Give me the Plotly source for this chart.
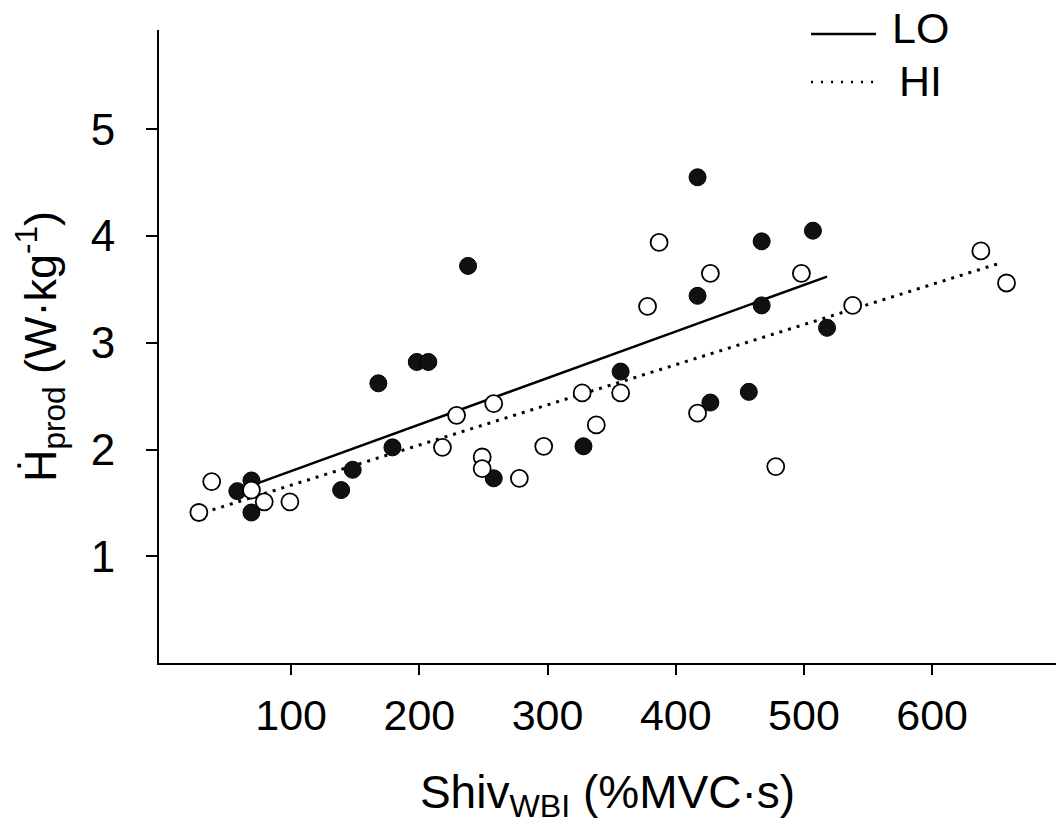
import plotly.graph_objects as go

# ---- data ----
lo_x = [58, 69, 69, 139, 148, 168, 179, 198, 207, 238, 258, 328, 357, 417, 417, 427, 457, 467, 467, 507, 518]
lo_y = [1.61, 1.71, 1.41, 1.62, 1.81, 2.62, 2.02, 2.82, 2.82, 3.72, 1.73, 2.03, 2.73, 4.55, 3.44, 2.44, 2.54, 3.95, 3.35, 4.05, 3.14]

hi_x = [28, 38, 69, 79, 99, 218, 229, 249, 249, 258, 278, 297, 327, 338, 357, 378, 387, 417, 427, 478, 498, 538, 638, 658]
hi_y = [1.41, 1.70, 1.62, 1.51, 1.51, 2.02, 2.32, 1.93, 1.82, 2.43, 1.73, 2.03, 2.53, 2.23, 2.53, 3.34, 3.94, 2.34, 3.65, 1.84, 3.65, 3.35, 3.86, 3.56]

lo_fit_x = [73, 518]
lo_fit_y = [1.68, 3.62]
hi_fit_x = [32, 654]
hi_fit_y = [1.41, 3.75]

x_ticks = [100, 200, 300, 400, 500, 600]
y_ticks = [1, 2, 3, 4, 5]

FONT = "Liberation Sans, Arial, sans-serif"

fig = go.Figure()

fig.add_trace(go.Scatter(x=lo_fit_x, y=lo_fit_y, mode="lines", name="LO",
                         line=dict(color="black", width=2.5), showlegend=False))
fig.add_trace(go.Scatter(x=hi_fit_x, y=hi_fit_y, mode="lines", name="HI",
                         line=dict(color="black", width=3, dash="3px,6px"), showlegend=False))
fig.add_trace(go.Scatter(x=lo_x, y=lo_y, mode="markers", name="LO",
                         marker=dict(size=17, color="#111111", line=dict(color="black", width=1)),
                         showlegend=False))
fig.add_trace(go.Scatter(x=hi_x, y=hi_y, mode="markers", name="HI",
                         marker=dict(size=17, color="white", line=dict(color="black", width=1.8)),
                         showlegend=False))

# legend drawn as line samples + text
fig.add_shape(type="line", xref="paper", yref="paper", x0=0.7269, x1=0.7993, y0=0.9937, y1=0.9937,
              line=dict(color="black", width=2.5))
fig.add_shape(type="line", xref="paper", yref="paper", x0=0.7269, x1=0.7993, y0=0.918, y1=0.918,
              line=dict(color="black", width=2.5, dash="2px,8px"))
fig.add_annotation(text="LO", xref="paper", yref="paper", x=0.8484, y=1.0035, xanchor="center",
                   yanchor="middle", showarrow=False, font=dict(family=FONT, size=43, color="black"))
fig.add_annotation(text="HI", xref="paper", yref="paper", x=0.8484, y=0.9192, xanchor="center",
                   yanchor="middle", showarrow=False, font=dict(family=FONT, size=43, color="black"))

fig.update_layout(
    width=1056, height=827,
    margin=dict(l=159, r=0, t=30, b=164),
    paper_bgcolor="white", plot_bgcolor="white",
    font=dict(family=FONT, color="black"),
    xaxis=dict(
        range=[-3.1, 696.6], tickvals=x_ticks, ticktext=[str(v) for v in x_ticks],
        showgrid=False, zeroline=False, showline=True, linecolor="black", linewidth=2,
        ticks="outside", ticklen=10, tickwidth=1.5, tickcolor="black",
        tickfont=dict(family=FONT, size=43), ticklabelstandoff=3,
        title=dict(text="Shiv<sub>WBI</sub> (%MVC·s)", font=dict(family=FONT, size=46), standoff=38),
    ),
    yaxis=dict(
        range=[0, 5.93], tickvals=y_ticks, ticktext=[str(v) for v in y_ticks],
        showgrid=False, zeroline=False, showline=True, linecolor="black", linewidth=2,
        ticks="outside", ticklen=11, tickwidth=1.5, tickcolor="black",
        tickfont=dict(family=FONT, size=44), ticklabelstandoff=22,
        title=dict(text="Ḣ<sub>prod</sub> (W·kg<sup>-1</sup>)", font=dict(family=FONT, size=45), standoff=20),
    ),
)

fig.write_html("out.html")
